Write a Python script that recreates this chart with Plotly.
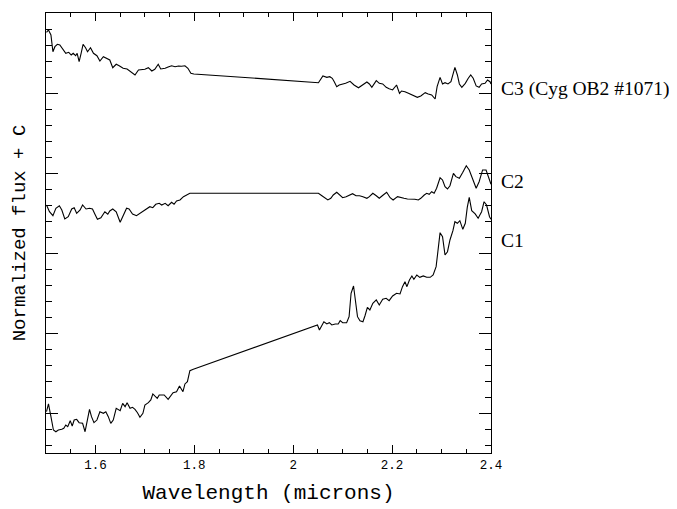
import plotly.graph_objects as go

# ---- data (wavelength in microns, normalized flux + offset C) ----
wl_c3 = [1.501,1.505,1.510,1.514,1.518,1.523,1.528,1.534,1.540,1.546,1.551,1.555,1.560,1.563,1.567,
         1.571,1.575,1.580,1.584,1.590,1.596,1.603,1.609,1.616,1.623,1.629,1.635,1.642,1.648,1.656,
         1.664,1.671,1.680,1.687,1.694,1.700,1.707,1.714,1.720,1.727,1.732,1.741,1.747,1.754,1.761,
         1.768,1.774,1.781,1.787,1.793,1.799,
         2.051,2.060,2.068,2.074,2.079,2.083,2.088,2.093,2.100,2.106,2.115,2.123,2.132,2.141,2.149,
         2.154,2.159,2.168,2.174,2.181,2.188,2.194,2.201,2.209,2.215,2.219,2.226,2.233,2.243,2.251,
         2.258,2.267,2.273,2.280,2.287,2.291,2.297,2.302,2.307,2.313,2.319,2.323,2.327,2.332,2.336,
         2.341,2.348,2.354,2.359,2.364,2.370,2.376,2.381,2.388,2.393,2.398,2.400]
flux_c3 = [4.759,4.788,4.725,4.516,4.579,4.609,4.600,4.550,4.496,4.509,4.475,4.496,4.466,4.496,4.391,
           4.496,4.609,4.566,4.516,4.566,4.496,4.466,4.400,4.454,4.434,4.413,4.316,4.359,4.341,4.309,
           4.300,4.266,4.225,4.288,4.288,4.296,4.316,4.275,4.296,4.359,4.300,4.309,4.325,4.341,4.329,
           4.338,4.334,4.341,4.309,4.246,4.238,
           4.129,4.213,4.196,4.204,4.184,4.141,4.079,4.100,4.109,4.121,4.146,4.100,4.066,4.100,4.138,
           4.113,4.071,4.154,4.121,4.113,4.071,4.054,4.038,4.100,3.996,4.025,4.016,3.996,3.963,3.946,
           3.963,4.004,3.988,3.975,3.925,4.079,4.196,4.113,4.129,4.113,4.141,4.225,4.321,4.225,4.113,
           4.071,4.121,4.184,4.225,4.184,4.088,4.071,4.113,4.121,4.163,4.141,4.113]

wl_c2 = [1.501,1.507,1.514,1.520,1.527,1.532,1.538,1.545,1.552,1.557,1.562,1.569,1.574,1.581,1.588,
         1.594,1.599,1.604,1.611,1.619,1.625,1.629,1.635,1.642,1.650,1.656,1.663,1.668,1.675,1.683,
         1.690,1.698,1.705,1.710,1.716,1.722,1.729,1.734,1.741,1.747,1.754,1.759,1.764,1.771,1.778,
         1.785,1.791,1.798,
         2.051,2.058,2.064,2.070,2.076,2.081,2.088,2.093,2.100,2.107,2.113,2.120,2.127,2.134,2.141,
         2.149,2.154,2.161,2.168,2.174,2.182,2.189,2.196,2.202,2.211,2.217,2.224,2.231,2.240,2.246,
         2.253,2.258,2.265,2.270,2.275,2.280,2.285,2.290,2.297,2.302,2.307,2.312,2.317,2.324,2.329,
         2.336,2.343,2.350,2.356,2.363,2.370,2.376,2.383,2.390,2.397,2.400]
flux_c2 = [2.600,2.516,2.466,2.559,2.591,2.538,2.425,2.454,2.550,2.566,2.496,2.538,2.600,2.550,2.559,
           2.550,2.484,2.421,2.441,2.516,2.484,2.525,2.550,2.516,2.384,2.466,2.559,2.550,2.488,2.466,
           2.496,2.538,2.566,2.579,2.566,2.609,2.621,2.600,2.621,2.591,2.634,2.609,2.650,2.663,2.704,
           2.725,2.746,2.746,
           2.746,2.716,2.684,2.663,2.684,2.725,2.759,2.734,2.691,2.704,2.725,2.741,2.716,2.716,2.704,
           2.684,2.704,2.746,2.716,2.684,2.725,2.759,2.691,2.663,2.704,2.691,2.684,2.675,2.675,2.671,
           2.663,2.684,2.725,2.746,2.734,2.766,2.746,2.809,2.941,2.913,2.829,2.800,2.841,2.996,2.954,
           2.934,3.009,3.091,3.038,2.913,2.809,2.891,3.038,3.038,2.913,2.859]

wl_c1 = [1.501,1.505,1.510,1.515,1.520,1.525,1.532,1.536,1.540,1.544,1.549,1.553,1.557,1.562,1.567,
         1.574,1.579,1.584,1.588,1.592,1.597,1.603,1.609,1.616,1.621,1.626,1.631,1.636,1.642,1.650,
         1.655,1.660,1.664,1.670,1.675,1.680,1.685,1.690,1.696,1.700,1.707,1.712,1.716,1.720,1.725,
         1.729,1.739,1.747,1.752,1.757,1.764,1.770,1.777,1.781,1.786,1.791,1.798,
         2.049,2.053,2.058,2.062,2.068,2.073,2.078,2.085,2.091,2.095,2.100,2.108,2.113,2.117,2.122,
         2.125,2.130,2.135,2.141,2.145,2.150,2.155,2.161,2.168,2.174,2.181,2.188,2.194,2.201,2.209,
         2.216,2.221,2.226,2.230,2.235,2.240,2.244,2.250,2.256,2.263,2.270,2.277,2.283,2.289,2.294,
         2.297,2.302,2.307,2.312,2.317,2.323,2.327,2.332,2.337,2.343,2.348,2.352,2.356,2.361,2.368,
         2.374,2.381,2.386,2.391,2.397,2.400]
flux_c1 = [0.016,0.113,-0.046,-0.213,-0.234,-0.213,-0.204,-0.191,-0.150,-0.171,-0.096,-0.163,-0.088,-0.079,-0.121,
           -0.129,-0.234,-0.088,0.046,-0.046,-0.121,-0.088,0.016,-0.004,0.016,-0.046,-0.129,-0.088,0.059,0.029,
           0.121,0.079,0.129,0.059,0.071,0.046,0.004,-0.054,-0.004,0.100,0.129,0.163,0.238,0.213,0.184,
           0.225,0.225,0.171,0.213,0.254,0.266,0.338,0.266,0.363,0.391,0.529,0.546,
           1.100,1.038,1.100,1.141,1.113,1.129,1.100,1.113,1.113,1.154,1.129,1.129,1.204,1.496,1.588,
           1.454,1.204,1.154,1.141,1.213,1.321,1.288,1.371,1.413,1.350,1.421,1.434,1.404,1.463,1.496,
           1.488,1.579,1.641,1.579,1.663,1.713,1.671,1.725,1.696,1.713,1.696,1.696,1.725,1.829,2.121,
           2.254,2.204,1.975,2.016,2.163,2.279,2.391,2.371,2.404,2.296,2.371,2.571,2.696,2.529,2.488,
           2.434,2.516,2.641,2.600,2.454,2.421]

series_names = ["C3 (Cyg OB2 #1071)", "C2", "C1"]
label_levels = [4.05, 2.89, 2.16]

x_tickvals = [1.6, 1.8, 2.0, 2.2, 2.4]
x_ticktext = ["1.6", "1.8", "2", "2.2", "2.4"]
y_tickvals = [0, 1, 2, 3, 4, 5]

fig = go.Figure()
for wl, fl, name in [(wl_c3, flux_c3, series_names[0]),
                     (wl_c2, flux_c2, series_names[1]),
                     (wl_c1, flux_c1, series_names[2])]:
    fig.add_trace(go.Scatter(x=wl, y=fl, mode="lines", name=name,
                             line=dict(color="black", width=1.1)))

for name, lvl in zip(series_names, label_levels):
    fig.add_annotation(x=1.018, xref="paper", y=lvl, yref="y", text=name,
                       showarrow=False, xanchor="left", yanchor="middle",
                       font=dict(family="Liberation Serif", size=19.5, color="black"))

mono = "Liberation Mono"
# page body has an 8px margin, so the figure is sized/offset to compensate
fig.update_layout(
    width=669, height=501,
    margin=dict(l=38, r=186, t=5, b=56),
    paper_bgcolor="white", plot_bgcolor="white",
    showlegend=False,
    xaxis=dict(range=[1.5, 2.4], showline=True, linecolor="black", linewidth=1,
               mirror="allticks", ticks="inside", ticklen=8, tickwidth=1, tickcolor="black",
               tickmode="array", tickvals=x_tickvals, ticktext=x_ticktext,
               tickfont=dict(family=mono, size=12.5, color="black"),
               minor=dict(tickmode="linear", tick0=1.5, dtick=0.05, ticks="inside",
                          ticklen=4, tickcolor="black", showgrid=False),
               showgrid=False, zeroline=False, automargin=False,
               title=dict(text="Wavelength (microns)", standoff=12,
                          font=dict(family=mono, size=21, color="black"))),
    yaxis=dict(range=[-0.5, 5.0], showline=True, linecolor="black", linewidth=1,
               mirror="allticks", ticks="inside", ticklen=12, tickwidth=1, tickcolor="black",
               tickmode="array", tickvals=y_tickvals, showticklabels=False,
               minor=dict(tickmode="linear", tick0=0, dtick=0.2, ticks="inside",
                          ticklen=6, tickcolor="black", showgrid=False),
               showgrid=False, zeroline=False, automargin=False,
               title=dict(text="Normalized flux + C", standoff=14,
                          font=dict(family=mono, size=19, color="black"))),
)

fig.write_html("out.html")
